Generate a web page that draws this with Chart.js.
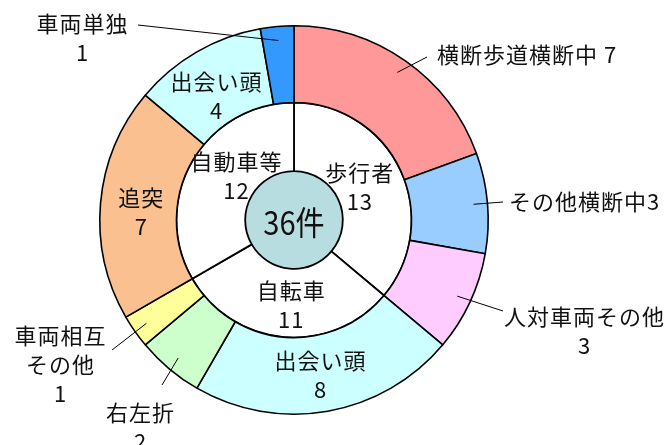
<!DOCTYPE html>
<html><head><meta charset="utf-8">
<script src="https://cdn.jsdelivr.net/npm/chart.js@4"></script>
<style>html,body{margin:0;padding:0;background:#fff;}canvas{display:block;}</style>
</head><body>
<canvas id="c" width="669" height="445"></canvas>
<script>
// ---- data ----
const outerLabels = ['横断歩道横断中','その他横断中','人対車両その他','出会い頭','右左折','車両相互その他','追突','出会い頭','車両単独'];
const outerValues = [7,3,3,8,2,1,7,4,1];
const outerColors = ['#FF9999','#99CCFF','#FFCCFF','#CCFFFF','#CCFFCC','#FFFF99','#FAC090','#CCFFFF','#3399FF'];
const innerLabels = ['歩行者','自転車','自動車等'];
const innerValues = [13,11,12];
const totalUnit = '件';
const totalValue = innerValues.reduce((a,b)=>a+b,0);

// ---- label layout (relative to chart centre) ----
const outerLayout = [
  {mode:'ext', lines:(l,v)=>[l+' '+v], align:'left', tx:143, ty:-165, lx:133, ly:-163},
  {mode:'ext', lines:(l,v)=>[l+v], align:'left', tx:215, ty:-18, lx:209, ly:-18},
  {mode:'ext', lines:(l,v)=>[l, String(v)], align:'center', tx:290, ty:97, lx:209, ly:91},
  {mode:'in', lines:(l,v)=>[l, String(v)], nx:-1, ny:2},
  {mode:'ext', lines:(l,v)=>[l, String(v)], align:'center', tx:-154, ty:193, lx:-132, ly:165},
  {mode:'ext', lines:(l,v)=>['車両相互','その他', String(v)], align:'center', tx:-234, ty:116, lx:-182, ly:130},
  {mode:'in', lines:(l,v)=>[l, String(v)], nx:2, ny:6},
  {mode:'in', lines:(l,v)=>[l, String(v)], nx:0, ny:11},
  {mode:'ext', lines:(l,v)=>[l, String(v)], align:'center', tx:-212, ty:-196, lx:-156, ly:-195}
];
const innerLayout = [
  {nx:-10, ny:2},
  {nx:4, ny:2},
  {nx:14, ny:-2}
];
const LINE_GAP = 29;

function drawLines(ctx, lines, x, yTop, align){
  lines.forEach((s,i)=>{
    const y = yTop + i*LINE_GAP;
    if(align==='center'){
      const w = ctx.measureText(s).width - parseFloat(ctx.letterSpacing||0);
      ctx.textAlign='left';
      ctx.fillText(s, x - w/2, y);
    } else {
      ctx.textAlign=align;
      ctx.fillText(s, x, y);
    }
  });
}

const labelPlugin = {
  id:'labels',
  afterDraw(chart){
    const ctx = chart.ctx;
    ctx.save();
    ctx.fillStyle = '#111';
    ctx.strokeStyle = '#000';
    ctx.lineWidth = 1;
    ctx.textBaseline = 'middle';
    ctx.font = '22px "Noto Sans CJK JP"';
    ctx.letterSpacing = '1px';
    const m0 = chart.getDatasetMeta(0);
    m0.data.forEach((arc,i)=>{
      const L = outerLayout[i];
      const cx = arc.x, cy = arc.y;
      const a = (arc.startAngle+arc.endAngle)/2;
      const lines = L.lines(outerLabels[i], outerValues[i]);
      if(L.mode==='ext'){
        const r = arc.outerRadius - 14;
        ctx.beginPath();
        ctx.moveTo(cx+Math.cos(a)*r, cy+Math.sin(a)*r);
        ctx.lineTo(cx+L.lx, cy+L.ly);
        ctx.stroke();
        drawLines(ctx, lines, cx+L.tx, cy+L.ty, L.align);
      } else {
        const r = (arc.innerRadius+arc.outerRadius)/2;
        const bx = cx+Math.cos(a)*r+L.nx, by = cy+Math.sin(a)*r+L.ny;
        drawLines(ctx, lines, bx, by-(lines.length-1)*LINE_GAP/2, 'center');
      }
    });
    const m1 = chart.getDatasetMeta(1);
    m1.data.forEach((arc,i)=>{
      const L = innerLayout[i];
      const a = (arc.startAngle+arc.endAngle)/2;
      const r = (arc.innerRadius+arc.outerRadius)/2;
      const bx = arc.x+Math.cos(a)*r+L.nx, by = arc.y+Math.sin(a)*r+L.ny;
      drawLines(ctx, [innerLabels[i], String(innerValues[i])], bx, by-LINE_GAP/2, 'center');
    });
    const m2 = chart.getDatasetMeta(2);
    const c = m2.data[0];
    ctx.letterSpacing = '0px';
    ctx.font = '33px "Noto Sans CJK JP"';
    ctx.translate(c.x, c.y+2);
    ctx.scale(0.88,1);
    ctx.textAlign='center';
    ctx.fillText(totalValue+totalUnit, 0, 0);
    ctx.restore();
  }
};

new Chart(document.getElementById('c'), {
  type:'doughnut',
  data:{
    labels: outerLabels,
    datasets:[
      {data: outerValues, backgroundColor: outerColors, borderColor:'#000', borderWidth:1.6, weight:77},
      {data: innerValues, backgroundColor:'#FFFFFF', borderColor:'#000', borderWidth:1.8, weight:69},
      {data: [totalValue], backgroundColor:'#B8DDE0', borderWidth:0, weight:49}
    ]
  },
  options:{
    responsive:false,
    animation:false,
    cutout:0,
    layout:{padding:{left:99,right:180,top:25,bottom:30}},
    plugins:{legend:{display:false}, tooltip:{enabled:false}}
  },
  plugins:[labelPlugin]
});
</script>
</body></html>
